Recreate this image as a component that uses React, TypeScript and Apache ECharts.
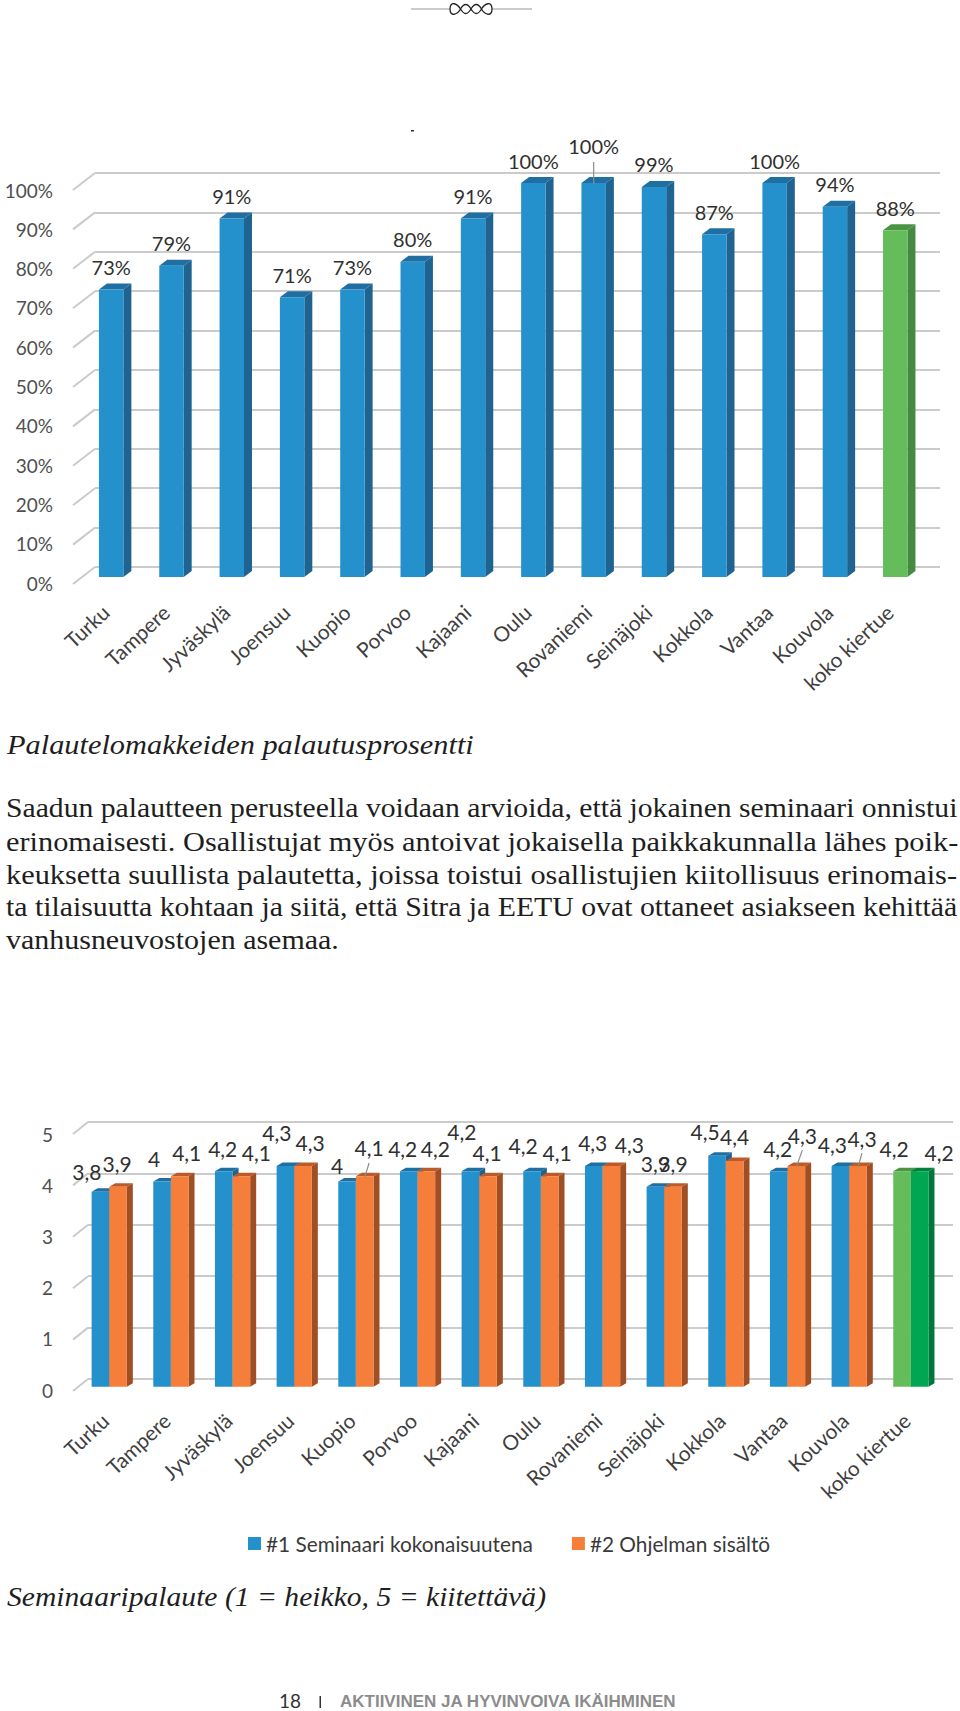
import React, { useEffect, useRef } from "react";
import * as echarts from "echarts";

// ---------- data ----------
const returnCities = ["Turku","Tampere","Jyväskylä","Joensuu","Kuopio","Porvoo","Kajaani","Oulu","Rovaniemi","Seinäjoki","Kokkola","Vantaa","Kouvola","koko kiertue"];
const feedbackCities = returnCities;
const returnRates = [73,79,91,71,73,80,91,100,100,99,87,100,94,88];
const overallScores = [3.8,4,4.2,4.3,4,4.2,4.2,4.2,4.3,3.9,4.5,4.2,4.3,4.2];
const programScores = [3.9,4.1,4.1,4.3,4.1,4.2,4.1,4.1,4.3,3.9,4.4,4.3,4.3,4.2];
const percentTicks = [0,10,20,30,40,50,60,70,80,90,100];
const scoreTicks = [0,1,2,3,4,5];
const seriesNames = ["#1 Seminaari kokonaisuutena","#2 Ohjelman sisältö"];
const caption1 = "Palautelomakkeiden palautusprosentti";
const caption2 = "Seminaaripalaute (1 = heikko, 5 = kiitettävä)";
const paragraph = [
  "Saadun palautteen perusteella voidaan arvioida, että jokainen seminaari onnistui",
  "erinomaisesti. Osallistujat myös antoivat jokaisella paikkakunnalla lähes poik-",
  "keuksetta suullista palautetta, joissa toistui osallistujien kiitollisuus erinomais-",
  "ta tilaisuutta kohtaan ja siitä, että Sitra ja EETU ovat ottaneet asiakseen kehittää",
  "vanhusneuvostojen asemaa.",
];
const pageNumber = "18";
const footerTitle = "AKTIIVINEN JA HYVINVOIVA IKÄIHMINEN";

// ---------- layout of labels (pixel offsets from the top centre of each bar) ----------
const rateLabelLift = returnRates.map((_, i) => (i === 8 ? -37 : -22.5));
const overallLabelOffsets = [[-13.5,-20],[-8,-23.5],[-1,-23],[-8.5,-34],[-10,-16.5],[-6,-23],[-8.5,-40],[-9,-26],[-1,-24],[0,-23.6],[-12,-24],[-1,-23],[-8,-22],[-8,-23]];
const programLabelOffsets = [[-1,-23.6],[7,-23.4],[15,-23.4],[7,-24],[4.4,-28.4],[9,-23],[-1,-23.4],[7.4,-23.4],[18,-22],[0,-23.6],[0,-24],[6,-31],[4,-28],[19.4,-19]];
const programLeaders = [4, 11, 12];

// ---------- colours ----------
const BLUE = { front: "#2490CC", top: "#1F6FA3", side: "#1F6390" };
const ORANGE = { front: "#F57E3A", top: "#BC5A28", side: "#A04F24" };
const GREEN = { front: "#65BC5B", top: "#4A9444", side: "#468A42" };
const DGREEN = { front: "#00A651", top: "#007F3D", side: "#00783C" };
const GRID_COLOR = "#CBCBCB";
const SANS = "Lato, 'Open Sans', sans-serif";
const SERIF = "'Liberation Serif', serif";

function bar3d(params: any, api: any, opt: any) {
  const i = api.value(0);
  const v = api.value(1);
  const [cx, y] = api.coord([i, v]);
  const [, y0] = api.coord([i, 0]);
  const band = api.size([1, 0])[0];
  const w = band * opt.widthRatio;
  const x = cx + band * opt.shiftRatio - w / 2;
  const c = i === returnCities.length - 1 ? opt.last : opt.color;
  const { dx, dy } = opt;
  return {
    type: "group",
    children: [
      { type: "polygon", shape: { points: [[x, y], [x + dx, y - dy], [x + w + dx, y - dy], [x + w, y]] }, style: { fill: c.top } },
      { type: "polygon", shape: { points: [[x + w, y], [x + w + dx, y - dy], [x + w + dx, y0 - dy], [x + w, y0]] }, style: { fill: c.side } },
      { type: "rect", shape: { x, y, width: w, height: y0 - y }, style: { fill: c.front } },
    ],
  };
}

function labelItem(params: any, api: any, opt: any) {
  const i = api.value(0);
  const v = api.value(1);
  const [cx, y] = api.coord([i, v]);
  const band = api.size([1, 0])[0];
  const bx = cx + band * opt.shiftRatio;
  const [ox, oy] = opt.offsets[i];
  const lx = bx + ox;
  const ly = y + oy;
  const children: any[] = [
    { type: "text", style: { text: opt.format(v), x: lx, y: ly, align: "center", verticalAlign: "middle", fontFamily: SANS, fontSize: opt.fontSize, fill: "#303030" } },
  ];
  if (opt.leaders.includes(i)) {
    children.push({ type: "line", shape: { x1: lx, y1: ly + opt.leaderGap, x2: bx + opt.leaderEnd, y2: y + 1 }, style: { stroke: "#8C8C8C", lineWidth: 1.2 } });
  }
  return { type: "group", children };
}

function slant(params: any, api: any, dx: number, dy: number) {
  const [x, y] = api.coord([0, api.value(0)]);
  return { type: "line", shape: { x1: x, y1: y, x2: x - dx, y2: y + dy }, style: { stroke: GRID_COLOR, lineWidth: 2 } };
}

const hiddenX: any = { type: "value", min: 0, max: 1, show: false };
function categoryX(gridIndex: number, data: string[], margin: number, along: number) {
  return {
    gridIndex, type: "category", data,
    axisLine: { show: false }, axisTick: { show: false }, splitLine: { show: false },
    axisLabel: { interval: 0, rotate: 43, margin, padding: [0, along, 0, 0], fontFamily: SANS, fontSize: 20.8, color: "#3F3F3F" },
  };
}
function plainY(gridIndex: number, max: number, interval: number) {
  return { gridIndex, type: "value", min: 0, max, interval, axisLine: { show: false }, axisTick: { show: false }, axisLabel: { show: false }, splitLine: { show: false } };
}
function wallY(gridIndex: number, max: number, interval: number) {
  return { ...plainY(gridIndex, max, interval), splitLine: { show: true, lineStyle: { color: GRID_COLOR, width: 2 } } };
}
function labelY(gridIndex: number, max: number, interval: number, fmt: string) {
  return { ...plainY(gridIndex, max, interval), axisLabel: { show: true, margin: 0, formatter: fmt, fontFamily: SANS, fontSize: 19, color: "#505050" } };
}

function fitted(text: string, x: number, baseline: number, endX: number, font: string, size: number, color = "#1E1E1E") {
  const ctx = document.createElement("canvas").getContext("2d")!;
  ctx.font = font;
  const w = ctx.measureText(text).width;
  return {
    type: "text", x, y: baseline - size * 0.28, scaleX: (endX - x) / w,
    style: { text, font, fill: color, align: "left", verticalAlign: "middle" },
  };
}

export default function App() {
  const ref = useRef<HTMLDivElement>(null);
  useEffect(() => {
    document.body.style.margin = "0";
    const chart = echarts.init(ref.current!, undefined, { renderer: "svg" });
    echarts.graphic.registerShape(
      "knot",
      echarts.graphic.extendPath("M0 0 C0 -8 7 -6 10.5 0 S17.5 6 21 0 S28 -6 31.5 0 S42 8 42 0 M0 0 C0 8 7 6 10.5 0 S17.5 -6 21 0 S28 6 31.5 0 S42 -8 42 0", {})
    );
    const pct = (v: number) => `${v}%`;
    const dec = (v: number) => String(v).replace(".", ",");
    const fs = 27;
    const body = `${fs}px ${SERIF}`;
    const ital = `italic ${fs}px ${SERIF}`;

    const option: any = {
      animation: false,
      backgroundColor: "#fff",
      grid: [
        { left: 95, width: 845, top: 173, height: 394 },
        { left: 81, width: 844.4, top: 183, height: 394 },
        { left: 53, width: 10, top: 190, height: 393 },
        { left: 88, width: 865, top: 1122, height: 257 },
        { left: 78.4, width: 863.3, top: 1130.2, height: 256.5 },
        { left: 53, width: 10, top: 1134, height: 256 },
      ],
      xAxis: [
        { ...hiddenX, gridIndex: 0 },
        categoryX(1, returnCities, 26, 8),
        { ...hiddenX, gridIndex: 2 },
        { ...hiddenX, gridIndex: 3 },
        categoryX(4, feedbackCities, 26, 6),
        { ...hiddenX, gridIndex: 5 },
      ],
      yAxis: [
        wallY(0, 100, 10),
        plainY(1, 100, 10),
        labelY(2, 100, 10, "{value}%"),
        wallY(3, 5, 1),
        plainY(4, 5, 1),
        labelY(5, 5, 1, "{value}"),
      ],
      legend: {
        left: 248, top: 1533, padding: 0, itemWidth: 13, itemHeight: 13, itemGap: 39, icon: "rect",
        textStyle: { fontFamily: SANS, fontSize: 20.8, color: "#3A3A3A" },
        data: [
          { name: seriesNames[0], itemStyle: { color: BLUE.front } },
          { name: seriesNames[1], itemStyle: { color: ORANGE.front } },
        ],
      },
      series: [
        // wall slants
        { type: "custom", xAxisIndex: 0, yAxisIndex: 0, z: 1, silent: true, data: percentTicks.map((v) => [v]), encode: { y: 0 }, renderItem: (p: any, a: any) => slant(p, a, 22, 17) },
        { type: "custom", xAxisIndex: 3, yAxisIndex: 3, z: 1, silent: true, data: scoreTicks.map((v) => [v]), encode: { y: 0 }, renderItem: (p: any, a: any) => slant(p, a, 15, 12) },
        // chart 1 bars
        {
          type: "custom", name: "Palautusprosentti", xAxisIndex: 1, yAxisIndex: 1, z: 2,
          data: returnRates.map((v, i) => [i, v]), encode: { x: 0, y: 1 },
          renderItem: (p: any, a: any) => bar3d(p, a, { widthRatio: 0.405, shiftRatio: 0, dx: 8, dy: 6, color: BLUE, last: GREEN }),
        },
        {
          type: "custom", xAxisIndex: 1, yAxisIndex: 1, z: 3,
          data: returnRates.map((v, i) => [i, v]), encode: { x: 0, y: 1 },
          renderItem: (p: any, a: any) => labelItem(p, a, { shiftRatio: 0, offsets: rateLabelLift.map((d) => [0, d]), format: pct, fontSize: 20, leaders: [8], leaderGap: 16, leaderEnd: 0 }),
        },
        // chart 2 bars
        {
          type: "custom", name: seriesNames[0], xAxisIndex: 4, yAxisIndex: 4, z: 2,
          data: overallScores.map((v, i) => [i, v]), encode: { x: 0, y: 1 },
          itemStyle: { color: BLUE.front },
          renderItem: (p: any, a: any) => bar3d(p, a, { widthRatio: 0.2855, shiftRatio: -0.1428, dx: 6, dy: 3.5, color: BLUE, last: GREEN }),
        },
        {
          type: "custom", name: seriesNames[1], xAxisIndex: 4, yAxisIndex: 4, z: 2,
          data: programScores.map((v, i) => [i, v]), encode: { x: 0, y: 1 },
          itemStyle: { color: ORANGE.front },
          renderItem: (p: any, a: any) => bar3d(p, a, { widthRatio: 0.2855, shiftRatio: 0.1428, dx: 6, dy: 3.5, color: ORANGE, last: DGREEN }),
        },
        {
          type: "custom", xAxisIndex: 4, yAxisIndex: 4, z: 3,
          data: overallScores.map((v, i) => [i, v]), encode: { x: 0, y: 1 },
          renderItem: (p: any, a: any) => labelItem(p, a, { shiftRatio: -0.1428, offsets: overallLabelOffsets, format: dec, fontSize: 21, leaders: [], leaderGap: 0, leaderEnd: 0 }),
        },
        {
          type: "custom", xAxisIndex: 4, yAxisIndex: 4, z: 3,
          data: programScores.map((v, i) => [i, v]), encode: { x: 0, y: 1 },
          renderItem: (p: any, a: any) => labelItem(p, a, { shiftRatio: 0.1428, offsets: programLabelOffsets, format: dec, fontSize: 21, leaders: programLeaders, leaderGap: 15, leaderEnd: 0 }),
        },
      ],
      graphic: [
        { type: "line", shape: { x1: 411, y1: 9, x2: 450, y2: 9 }, style: { stroke: "#999", lineWidth: 1 } },
        { type: "line", shape: { x1: 492, y1: 9, x2: 532, y2: 9 }, style: { stroke: "#999", lineWidth: 1 } },
        { type: "knot", x: 450, y: 9, style: { fill: "none", stroke: "#222", lineWidth: 1.3 } },
        { type: "rect", shape: { x: 411, y: 130, width: 3, height: 1.5 }, style: { fill: "#333" } },
        fitted(caption1, 7, 752, 474, ital, fs),
        fitted(paragraph[0], 6, 816, 958, body, fs),
        fitted(paragraph[1], 6, 849, 958, body, fs),
        fitted(paragraph[2], 6, 882, 958, body, fs),
        fitted(paragraph[3], 6, 915, 958, body, fs),
        fitted(paragraph[4], 6, 948, 339, body, fs),
        fitted(caption2, 7, 1605, 546, ital, fs),
        { type: "text", x: 279, y: 1700.5, style: { text: pageNumber, font: `19px ${SANS}`, fill: "#333", verticalAlign: "middle" } },
        { type: "rect", shape: { x: 319.5, y: 1696, width: 1.5, height: 12 }, style: { fill: "#333" } },
        fitted(footerTitle, 340, 1706, 677, `bold 16px 'Liberation Sans Narrow', 'Liberation Sans', sans-serif`, 16, "#8C8C8C"),
      ],
    };
    chart.setOption(option);
    return () => chart.dispose();
  }, []);
  return <div ref={ref} style={{ width: 960, height: 1711, background: "#fff" }} />;
}
